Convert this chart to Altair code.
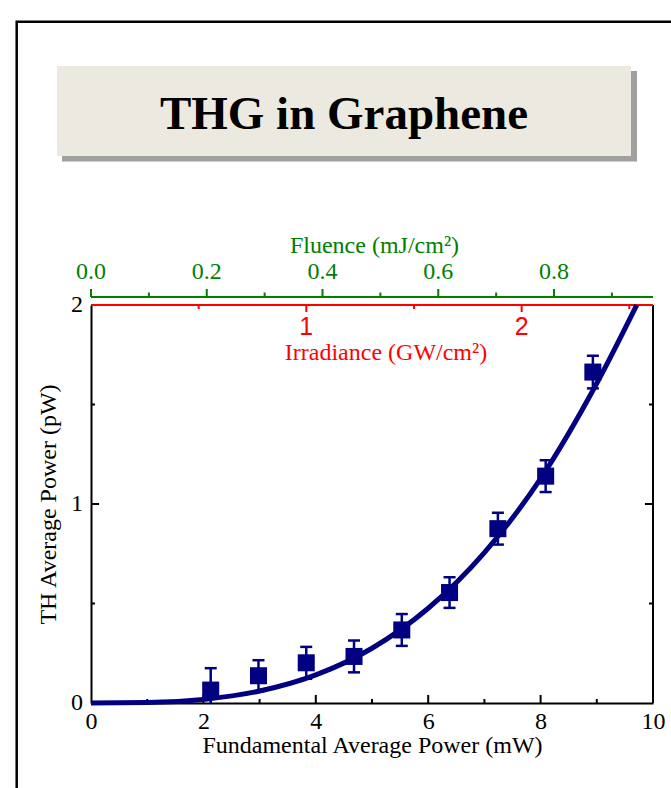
import altair as alt
import pandas as pd

# ---------------- data ----------------
power = [2.13, 2.98, 3.83, 4.68, 5.53, 6.38, 7.24, 8.09, 8.93]          # mW
th_power = [0.065, 0.137, 0.202, 0.234, 0.367, 0.555, 0.876, 1.14, 1.663]  # pW
th_err = [0.11, 0.078, 0.08, 0.08, 0.08, 0.077, 0.08, 0.08, 0.082]

fit_power = [0, 1, 2, 3, 4, 5, 6, 7, 8, 9, 9.71]
fit_th = [0, 0.002, 0.018, 0.06, 0.141, 0.275, 0.476, 0.756, 1.128, 1.607, 2.0]

x_labels = [0, 2, 4, 6, 8, 10]
x_major = [2, 4, 6, 8]
x_minor = [1, 3, 5, 7, 9]
y_labels = [0, 1, 2]
y_label_text = ["0", "1", "2"]
y_major = [1]
y_minor = [0.5, 1.5]

fluence_major = [0.0, 0.2, 0.4, 0.6, 0.8]
fluence_labels = ["0.0", "0.2", "0.4", "0.6", "0.8"]
fluence_minor = [0.1, 0.3, 0.5, 0.7, 0.9]
fluence_max = 0.971      # mJ/cm^2 at 10 mW

irr_major = [1, 2]
irr_labels = ["1", "2"]
irr_minor = [0.5, 1.5, 2.5]
irr_max = 2.61           # GW/cm^2 at 10 mW

# ---------------- style ----------------
NAVY = "#000080"
GREEN = "#008000"
RED = "#FF0000"
SERIF = "Liberation Serif"
SANS = "Liberation Sans"
W, H = 562, 398

xs = alt.Scale(domain=[0, 10], nice=False, zero=False)
ys = alt.Scale(domain=[0, 2], nice=False, zero=False)

x_axis = alt.Axis(values=x_labels, format="d", ticks=False, tickSize=0, labelPadding=6,
                  labelFont=SERIF, labelFontSize=24, labelColor="black", labelFlush=False,
                  labelOverlap=False, labelBound=False, domainColor="black", domainWidth=2,
                  grid=False, title="Fundamental Average Power (mW)", titleFont=SERIF,
                  titleFontSize=24, titleFontWeight="normal", titleColor="black",
                  titleY=49, titleBaseline="alphabetic")
y_axis = alt.Axis(values=y_labels, ticks=False, tickSize=0, labels=False,
                  domainColor="black", domainWidth=2,
                  grid=False, title="TH Average Power (pW)", titleFont=SERIF,
                  titleFontSize=24, titleFontWeight="normal", titleColor="black",
                  titleX=-36, titleBaseline="alphabetic")

X = lambda f: alt.X(f, type="quantitative", scale=xs, axis=x_axis)
Y = lambda f: alt.Y(f, type="quantitative", scale=ys, axis=y_axis)

df = pd.DataFrame({"p": power, "th": th_power, "err": th_err})
df["lo"] = df["th"] - df["err"]
df["hi"] = df["th"] + df["err"]
fit = pd.DataFrame({"p": fit_power, "th": fit_th})
one = pd.DataFrame({"a": [0]})

# ---------------- decorations ----------------
frame = alt.Chart(one).mark_rect(fillOpacity=0, stroke="black", strokeWidth=2.5).encode(
    x=alt.value(-74.3), x2=alt.value(W + 100), y=alt.value(-283.3), y2=alt.value(H + 200))
shadow = alt.Chart(one).mark_rect(color="#A0A0A0").encode(
    x=alt.value(-29), x2=alt.value(546), y=alt.value(-234), y2=alt.value(-143.5))
box = alt.Chart(one).mark_rect(color="#ECEAE0").encode(
    x=alt.value(-34), x2=alt.value(540), y=alt.value(-239), y2=alt.value(-149))
title = alt.Chart(one).mark_text(text="THG in Graphene", font=SERIF, fontSize=47,
                                 fontWeight="bold", color="black", align="center",
                                 baseline="alphabetic").encode(
    x=alt.value(253), y=alt.value(-176.5))

right_axis = alt.Chart(one).mark_rule(color="black", strokeWidth=2).encode(
    x=alt.value(W), y=alt.value(0), y2=alt.value(H))
red_line = alt.Chart(one).mark_rule(color=RED, strokeWidth=2).encode(
    x=alt.value(0), x2=alt.value(W), y=alt.value(0))
green_line = alt.Chart(one).mark_rule(color=GREEN, strokeWidth=2).encode(
    x=alt.value(0), x2=alt.value(W), y=alt.value(-8))

# y tick labels
ylab = pd.DataFrame({"th": y_labels, "lab": y_label_text})
y_lab = alt.Chart(ylab).mark_text(font=SERIF, fontSize=24, color="black", align="right",
                                  baseline="middle").encode(
    y=Y("th"), x=alt.value(-8), text="lab:N")

# inward ticks on main axes
xmaj = pd.DataFrame({"p": x_major})
xmin = pd.DataFrame({"p": x_minor})
ymaj = pd.DataFrame({"th": y_major})
ymin = pd.DataFrame({"th": y_minor})
tick_style = dict(color="black", strokeWidth=2)
bt_major = alt.Chart(xmaj).mark_rule(**tick_style).encode(x=X("p"), y=alt.value(H), y2=alt.value(H - 8))
bt_minor = alt.Chart(xmin).mark_rule(**tick_style).encode(x=X("p"), y=alt.value(H), y2=alt.value(H - 4))
lt_major = alt.Chart(ymaj).mark_rule(**tick_style).encode(y=Y("th"), x=alt.value(0), x2=alt.value(8))
lt_minor = alt.Chart(ymin).mark_rule(**tick_style).encode(y=Y("th"), x=alt.value(0), x2=alt.value(4))
rt_major = alt.Chart(ymaj).mark_rule(**tick_style).encode(y=Y("th"), x=alt.value(W), x2=alt.value(W - 8))
rt_minor = alt.Chart(ymin).mark_rule(**tick_style).encode(y=Y("th"), x=alt.value(W), x2=alt.value(W - 4))

# ---------------- data marks ----------------
bars = alt.Chart(df).mark_rule(color=NAVY, strokeWidth=2.5, clip=True).encode(
    x=X("p"), y=Y("lo"), y2="hi")
cap_hi = alt.Chart(df).mark_rule(color=NAVY, strokeWidth=2.5, xOffset=-6, x2Offset=6, clip=True).encode(
    x=X("p"), x2="p", y=Y("hi"))
cap_lo = alt.Chart(df).mark_rule(color=NAVY, strokeWidth=2.5, xOffset=-6, x2Offset=6, clip=True).encode(
    x=X("p"), x2="p", y=Y("lo"))
pts = alt.Chart(df).mark_point(shape="square", size=290, filled=True, opacity=1, color=NAVY).encode(
    x=X("p"), y=Y("th"))
curve = alt.Chart(fit).mark_line(color=NAVY, strokeWidth=5, interpolate="monotone").encode(
    x=X("p"), y=Y("th"))

main = alt.layer(frame, shadow, box, title, right_axis, red_line, green_line,
                 bt_major, bt_minor, lt_major, lt_minor, rt_major, rt_minor, y_lab,
                 bars, cap_hi, cap_lo, pts, curve)

# ---------------- fluence axis (top, green) ----------------
fs = alt.Scale(domain=[0, fluence_max], nice=False, zero=False)
fmaj = pd.DataFrame({"f": fluence_major, "lab": fluence_labels})
fmin = pd.DataFrame({"f": fluence_minor})
f_tmaj = alt.Chart(fmaj).mark_rule(color=GREEN, strokeWidth=2).encode(
    x=alt.X("f:Q", scale=fs, axis=None), y=alt.value(-8), y2=alt.value(-16))
f_tmin = alt.Chart(fmin).mark_rule(color=GREEN, strokeWidth=2).encode(
    x=alt.X("f:Q", scale=fs, axis=None), y=alt.value(-8), y2=alt.value(-12.5))
f_lab = alt.Chart(fmaj).mark_text(font=SERIF, fontSize=24, color=GREEN, align="center",
                                  baseline="alphabetic").encode(
    x=alt.X("f:Q", scale=fs, axis=None), y=alt.value(-26), text="lab:N")
f_title = alt.Chart(one).mark_text(text="Fluence (mJ/cm²)", font=SERIF, fontSize=24, color=GREEN,
                                   align="center", baseline="alphabetic").encode(
    x=alt.value(283.5), y=alt.value(-52))
fluence = alt.layer(f_tmaj, f_tmin, f_lab, f_title)

# ---------------- irradiance axis (top, red, inside) ----------------
irs = alt.Scale(domain=[0, irr_max], nice=False, zero=False)
imaj = pd.DataFrame({"i": irr_major, "lab": irr_labels})
imin = pd.DataFrame({"i": irr_minor})
i_tmaj = alt.Chart(imaj).mark_rule(color=RED, strokeWidth=2).encode(
    x=alt.X("i:Q", scale=irs, axis=None), y=alt.value(0), y2=alt.value(7))
i_tmin = alt.Chart(imin).mark_rule(color=RED, strokeWidth=2).encode(
    x=alt.X("i:Q", scale=irs, axis=None), y=alt.value(0), y2=alt.value(4))
i_lab = alt.Chart(imaj).mark_text(font=SANS, fontSize=25, color=RED, align="center",
                                  baseline="alphabetic").encode(
    x=alt.X("i:Q", scale=irs, axis=None), y=alt.value(30), text="lab:N")
i_title = alt.Chart(one).mark_text(text="Irradiance (GW/cm²)", font=SERIF, fontSize=24, color=RED,
                                   align="center", baseline="alphabetic").encode(
    x=alt.value(295), y=alt.value(55))
irr = alt.layer(i_tmaj, i_tmin, i_lab, i_title)

chart = alt.layer(main, fluence, irr).resolve_scale(x="independent").properties(
    width=W, height=H,
    autosize=alt.AutoSizeParams(type="none"),
    padding={"left": 91, "top": 305, "right": 18, "bottom": 85},
    background="white",
).configure_view(stroke=None).configure_axis(labelOverlap=False)

chart.save("out.html", embed_options={"renderer": "svg", "actions": False})
